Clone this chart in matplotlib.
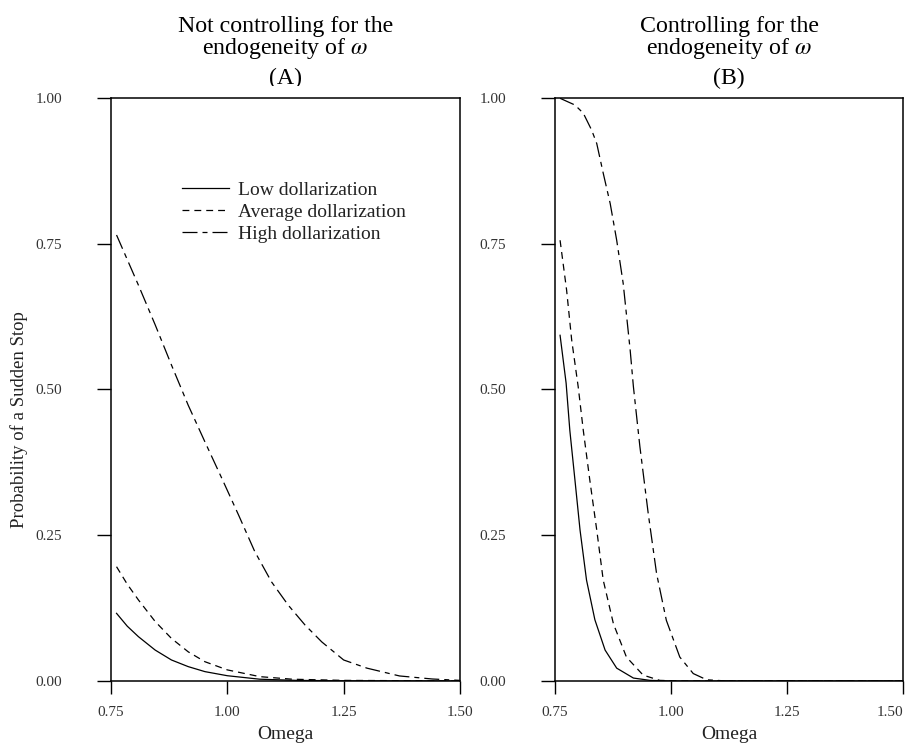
import numpy as np
import matplotlib
matplotlib.use("Agg")
import matplotlib.pyplot as plt
from matplotlib.transforms import Bbox, TransformedBbox

plt.rcParams['font.family'] = ['Liberation Serif', 'DejaVu Serif']
plt.rcParams['mathtext.fontset'] = 'stix'

# panel A: not controlling for endogeneity
omega_a_low = [0.762, 0.785, 0.809, 0.845, 0.880, 0.916, 0.952, 1.00, 1.07, 1.15, 1.25, 1.50]
prob_a_low = [0.116, 0.094, 0.076, 0.053, 0.036, 0.0246, 0.016, 0.009, 0.003, 0.001, 0.0003, 0.0]
omega_a_avg = [0.762, 0.785, 0.809, 0.845, 0.880, 0.916, 0.952, 1.00, 1.07, 1.14, 1.25, 1.50]
prob_a_avg = [0.196, 0.166, 0.139, 0.102, 0.073, 0.050, 0.033, 0.019, 0.0074, 0.003, 0.001, 0.0]
omega_a_high = [0.762, 0.809, 0.845, 0.880, 0.916, 0.952, 0.988, 1.024, 1.059, 1.095,
                1.131, 1.167, 1.203, 1.25, 1.30, 1.37, 1.44, 1.50]
prob_a_high = [0.765, 0.679, 0.611, 0.542, 0.473, 0.410, 0.348, 0.285, 0.222, 0.170,
               0.130, 0.096, 0.067, 0.036, 0.022, 0.0086, 0.0034, 0.001]

# panel B: controlling for endogeneity
omega_b_low = [0.761, 0.774, 0.782, 0.793, 0.804, 0.818, 0.836, 0.858, 0.883, 0.919, 0.955, 1.00, 1.50]
prob_b_low = [0.593, 0.511, 0.43, 0.345, 0.259, 0.173, 0.105, 0.053, 0.022, 0.005, 0.001, 0.0, 0.0]
omega_b_avg = [0.761, 0.775, 0.786, 0.800, 0.811, 0.825, 0.840, 0.854, 0.876, 0.904, 0.940, 0.976, 1.02, 1.50]
prob_b_avg = [0.756, 0.671, 0.585, 0.505, 0.43, 0.345, 0.259, 0.173, 0.098, 0.041, 0.010, 0.001, 0.0, 0.0]
omega_b_high = [0.761, 0.793, 0.811, 0.829, 0.840, 0.854, 0.869, 0.883, 0.897, 0.912, 0.919,
                0.933, 0.951, 0.969, 0.990, 1.019, 1.048, 1.077, 1.12, 1.50]
prob_b_high = [0.9995, 0.988, 0.974, 0.945, 0.922, 0.871, 0.819, 0.756, 0.682, 0.568, 0.505,
               0.402, 0.287, 0.184, 0.104, 0.041, 0.0127, 0.002, 0.0, 0.0]

labels = ['Low dollarization', 'Average dollarization', 'High dollarization']
styles = ['-', (0, (5.5, 4)), (0, (12, 4, 4, 4))]
ticks = [0.00, 0.25, 0.50, 0.75, 1.00]
xticks = [0.75, 1.00, 1.25, 1.50]

fig = plt.figure(figsize=(9.08, 7.47), dpi=100)
ax1 = fig.add_axes([0.1222, 0.0884, 0.3844, 0.7804])
ax2 = fig.add_axes([0.6112, 0.0884, 0.3833, 0.7804])

panels = [
    (ax1, [(omega_a_low, prob_a_low), (omega_a_avg, prob_a_avg), (omega_a_high, prob_a_high)]),
    (ax2, [(omega_b_low, prob_b_low), (omega_b_avg, prob_b_avg), (omega_b_high, prob_b_high)]),
]

for ax, series in panels:
    for (x, y), ls, lab in zip(series, styles, labels):
        ax.plot(x, y, color='black', linestyle=ls, linewidth=0.9, label=lab)
    ax.set_xlim(0.75, 1.5)
    ax.set_ylim(0, 1)
    ax.set_xticks(xticks)
    ax.set_xticklabels(['%.2f' % t for t in xticks])
    ax.set_yticks(ticks)
    ax.set_yticklabels(['%.2f' % t for t in ticks])
    ax.tick_params(axis='y', direction='out', length=10, width=1, pad=25, labelsize=11,
                   labelcolor='#333333')
    ax.tick_params(axis='x', direction='out', length=9, width=1, pad=9, labelsize=11,
                   labelcolor='#333333')
    for s in ax.spines.values():
        s.set_linewidth(1.1)
    ax.set_xlabel('Omega', fontsize=14, labelpad=5, color='#222222')

# last tick label of panel B stays inside the figure
ax2.get_xticklabels()[-1].set_horizontalalignment('right')

ax1.set_ylabel('Probability of a Sudden Stop', fontsize=13.5, color='#222222')
ax1.yaxis.set_label_coords(-0.238, 0.448)

leg = ax1.legend(loc='upper left', bbox_to_anchor=(0.2034, 0.857), frameon=False,
                 fontsize=14, handlelength=2.4, handletextpad=0.46, labelspacing=0.22,
                 borderpad=0, borderaxespad=0)
for t in leg.get_texts():
    t.set_color('#222222')

# titles
fig.text(0.3144, 0.964, 'Not controlling for the', ha='center', va='center', fontsize=17.2)
fig.text(0.3144, 0.935, r'endogeneity of $\omega$', ha='center', va='center', fontsize=17.2)
tA = fig.text(0.3144, 0.895, '(A)', ha='center', va='center', fontsize=17.2)
tA.set_clip_box(TransformedBbox(Bbox([[0, 1 - 86 / 747], [1, 1]]), fig.transFigure))
tA.set_clip_on(True)
fig.text(0.8029, 0.964, 'Controlling for the', ha='center', va='center', fontsize=17.2)
fig.text(0.8029, 0.935, r'endogeneity of $\omega$', ha='center', va='center', fontsize=17.2)
fig.text(0.8029, 0.895, '(B)', ha='center', va='center', fontsize=17.2)

fig.savefig('out.png', dpi=100)
